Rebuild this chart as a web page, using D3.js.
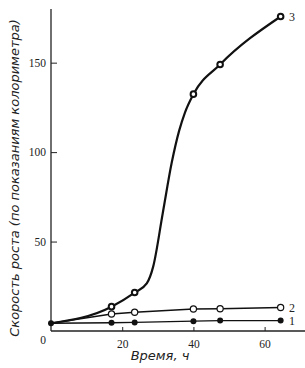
<!DOCTYPE html>
<html>
<head>
<meta charset="utf-8">
<script src="https://cdn.jsdelivr.net/npm/d3@7"></script>
<style>
  body { margin: 0; background: #fff; }
  svg { display: block; }
  .tick text { font-family: "Liberation Serif", serif; font-size: 11.5px; fill: #222; }
</style>
</head>
<body>
<svg width="305" height="368"></svg>
<script>
// время, ч
var hours = [0, 17, 23.5, 40, 47.5, 64.5];
// скорость роста, кривые 1-3
var series1 = [4.3, 4.6, 4.8, 5.5, 5.8, 5.8];
var series2 = [4.3, 9.5, 10.5, 12.3, 12.4, 13.1];
var series3 = [4.3, 13.6, 21.5, 132.4, 149, 175.8];
// кривая 3 между точками
var curve3Hours = [0, 17, 23.5, 26.9, 28.7, 31.4, 33.9, 36, 37.6, 40, 47.5, 64.5];
var curve3Vals  = [4.3, 13.6, 21.5, 26.6, 36, 66, 94, 112, 122, 132.4, 149, 175.8];
var xTicks = [20, 40, 60];
var yTicks = [50, 100, 150];

var svg = d3.select("svg");

var x = d3.scaleLinear().domain([0, 70.5]).range([51, 302]);
var y = d3.scaleLinear().domain([0, 180]).range([331, 9]);

// оси
svg.append("line")
    .attr("x1", x(0)).attr("x2", x(0))
    .attr("y1", y(180)).attr("y2", y(0))
    .attr("stroke", "#222").attr("stroke-width", 1.3);
svg.append("line")
    .attr("x1", x(0)).attr("x2", 305)
    .attr("y1", y(0)).attr("y2", y(0))
    .attr("stroke", "#222").attr("stroke-width", 1.3);

var xAxis = svg.append("g")
    .attr("transform", "translate(0," + y(0) + ")")
    .call(d3.axisBottom(x).tickValues(xTicks).tickSize(-4).tickPadding(9));
xAxis.select(".domain").remove();
xAxis.selectAll(".tick line").attr("stroke", "#222");

var yAxis = svg.append("g")
    .attr("transform", "translate(" + x(0) + ",0)")
    .call(d3.axisLeft(y).tickValues(yTicks).tickSize(-6).tickPadding(5));
yAxis.select(".domain").remove();
yAxis.selectAll(".tick line").attr("stroke", "#222");

svg.append("text")
    .attr("x", x(0) - 8).attr("y", 344)
    .attr("text-anchor", "middle")
    .style("font-family", "Liberation Serif, serif")
    .style("font-size", "11.5px").attr("fill", "#222")
    .text("0");

// линии
var line = d3.line()
    .x(function(d) { return x(d[0]); })
    .y(function(d) { return y(d[1]); });
var smooth = d3.line()
    .x(function(d) { return x(d[0]); })
    .y(function(d) { return y(d[1]); })
    .curve(d3.curveMonotoneX);

svg.append("path")
    .datum(d3.zip(hours, series1))
    .attr("d", line)
    .attr("fill", "none").attr("stroke", "#111").attr("stroke-width", 1.4);
svg.append("path")
    .datum(d3.zip(hours, series2))
    .attr("d", line)
    .attr("fill", "none").attr("stroke", "#111").attr("stroke-width", 1.4);
svg.append("path")
    .datum(d3.zip(curve3Hours, curve3Vals))
    .attr("d", smooth)
    .attr("fill", "none").attr("stroke", "#111").attr("stroke-width", 2.2);

// маркеры
svg.append("g").selectAll("circle")
    .data(d3.zip(hours, series2).slice(1))
    .enter().append("circle")
        .attr("cx", function(d) { return x(d[0]); })
        .attr("cy", function(d) { return y(d[1]); })
        .attr("r", 3.1)
        .attr("fill", "#fff").attr("stroke", "#111").attr("stroke-width", 1.2);
svg.append("g").selectAll("circle")
    .data(d3.zip(hours, series3).slice(1))
    .enter().append("circle")
        .attr("cx", function(d) { return x(d[0]); })
        .attr("cy", function(d) { return y(d[1]); })
        .attr("r", 2.8)
        .attr("fill", "#fff").attr("stroke", "#111").attr("stroke-width", 2);
svg.append("g").selectAll("circle")
    .data(d3.zip(hours, series1))
    .enter().append("circle")
        .attr("cx", function(d) { return x(d[0]); })
        .attr("cy", function(d) { return y(d[1]); })
        .attr("r", 3)
        .attr("fill", "#111");

// номера кривых
var labels = [["3", series3[5]], ["2", series2[5]], ["1", series1[5]]];
svg.append("g").selectAll("text")
    .data(labels)
    .enter().append("text")
        .attr("x", 289)
        .attr("y", function(d) { return y(d[1]) + 4; })
        .style("font-family", "Liberation Serif, serif")
        .style("font-size", "12px").attr("fill", "#222")
        .text(function(d) { return d[0]; });

// подписи осей
svg.append("text")
    .attr("x", 160).attr("y", 360)
    .attr("text-anchor", "middle")
    .style("font-family", "DejaVu Sans, sans-serif")
    .style("font-style", "italic").style("font-size", "13px").attr("fill", "#222")
    .text("Время, ч");
svg.append("text")
    .attr("transform", "translate(19,178) rotate(-90)")
    .attr("text-anchor", "middle")
    .style("font-family", "DejaVu Sans, sans-serif")
    .style("font-style", "italic").style("font-size", "13px").attr("fill", "#222")
    .text("Скорость  роста  (по показаниям  колориметра)");
</script>
</body>
</html>
